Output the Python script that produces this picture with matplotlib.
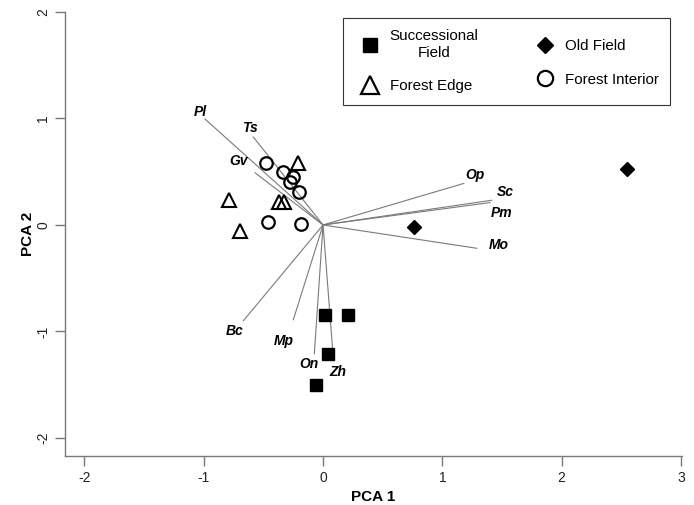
import matplotlib
matplotlib.use('Agg')
import matplotlib.pyplot as plt
from matplotlib.lines import Line2D

plt.rcParams['font.family'] = ['Liberation Sans', 'DejaVu Sans']

# ---- data ----
succ_x = [0.02, 0.21, 0.04, -0.06]
succ_y = [-0.85, -0.85, -1.21, -1.50]
old_x = [0.765, 2.546]
old_y = [-0.02, 0.526]
edge_x = [-0.207, -0.788, -0.70, -0.369, -0.327]
edge_y = [0.585, 0.232, -0.056, 0.216, 0.216]
int_x = [-0.478, -0.338, -0.249, -0.277, -0.199, -0.459, -0.184]
int_y = [0.579, 0.498, 0.454, 0.404, 0.313, 0.028, 0.007]

species = ['Pl', 'Ts', 'Gv', 'Op', 'Sc', 'Pm', 'Mo', 'Bc', 'Mp', 'On', 'Zh']
load_x = [-0.99, -0.584, -0.57, 1.18, 1.414, 1.40, 1.288, -0.668, -0.249, -0.073, 0.081]
load_y = [0.995, 0.826, 0.49, 0.39, 0.232, 0.21, -0.219, -0.90, -0.89, -1.21, -1.18]
lab_x = [-1.025, -0.612, -0.71, 1.274, 1.531, 1.498, 1.475, -0.743, -0.327, -0.115, 0.123]
lab_y = [1.064, 0.908, 0.60, 0.469, 0.313, 0.11, -0.19, -0.995, -1.089, -1.302, -1.38]

x_ticks = [-2, -1, 0, 1, 2, 3]
y_ticks = [-2, -1, 0, 1, 2]

group_labels = ['Successional\nField', 'Forest Edge', 'Old Field', 'Forest Interior']

# ---- figure ----
fig = plt.figure(figsize=(6.94, 5.05), dpi=100)
ax = fig.add_axes([65/694, 49/505, 617/694, 444/505])

gray = '#7a7a7a'
for sx, sy in zip(load_x, load_y):
    ax.plot([0, sx], [0, sy], color=gray, lw=0.8, zorder=1)
for name, tx, ty in zip(species, lab_x, lab_y):
    ax.text(tx, ty, name, fontsize=10, fontweight='bold', fontstyle='italic',
            ha='center', va='center', color='black', zorder=3)

ax.plot(succ_x, succ_y, ls='none', marker='s', ms=8.5, color='black', zorder=2)
ax.plot(old_x, old_y, ls='none', marker='D', ms=7, color='black', zorder=2)
ax.plot(edge_x, edge_y, ls='none', marker='^', ms=10, mfc='none', mec='black', mew=1.5, zorder=2)
ax.plot(int_x, int_y, ls='none', marker='o', ms=9, mfc='none', mec='black', mew=1.6, zorder=2)

ax.set_xlim(-2.163, 3.009)
ax.set_ylim(-2.17, 2.0)
ax.set_xticks(x_ticks)
ax.set_yticks(y_ticks)
ax.set_xticklabels([str(v) for v in x_ticks])
ax.set_yticklabels([str(v) for v in y_ticks], rotation=90, va='center')

for s in ['top', 'right']:
    ax.spines[s].set_visible(False)
for s in ['left', 'bottom']:
    ax.spines[s].set_color(gray)
    ax.spines[s].set_linewidth(1.0)
ax.tick_params(axis='both', length=7, width=1.0, color=gray, labelsize=10, labelcolor='#222222', pad=3.5)

ax.set_xlabel('PCA 1', fontsize=11, fontweight='bold', labelpad=4)
ax.set_ylabel('PCA 2', fontsize=11, fontweight='bold', labelpad=1)

handles = [
    Line2D([], [], ls='none', marker='s', ms=10, color='black'),
    Line2D([], [], ls='none', marker='^', ms=13.5, mfc='none', mec='black', mew=1.6),
    Line2D([], [], ls='none', marker='D', ms=8.5, color='black'),
    Line2D([], [], ls='none', marker='o', ms=11, mfc='none', mec='black', mew=1.6),
]
leg = ax.legend(handles, group_labels, ncol=2, loc='upper left',
                bbox_to_anchor=(0.4506, 0.9865),
                frameon=True, fancybox=False, edgecolor='black', fontsize=10.9,
                borderpad=0.75, labelspacing=1.3, handletextpad=0.33,
                columnspacing=3.4, handlelength=2.0, borderaxespad=0)
leg.get_frame().set_linewidth(0.8)
leg.get_texts()[0].set_multialignment('center')

fig.savefig('out.png', dpi=100)
